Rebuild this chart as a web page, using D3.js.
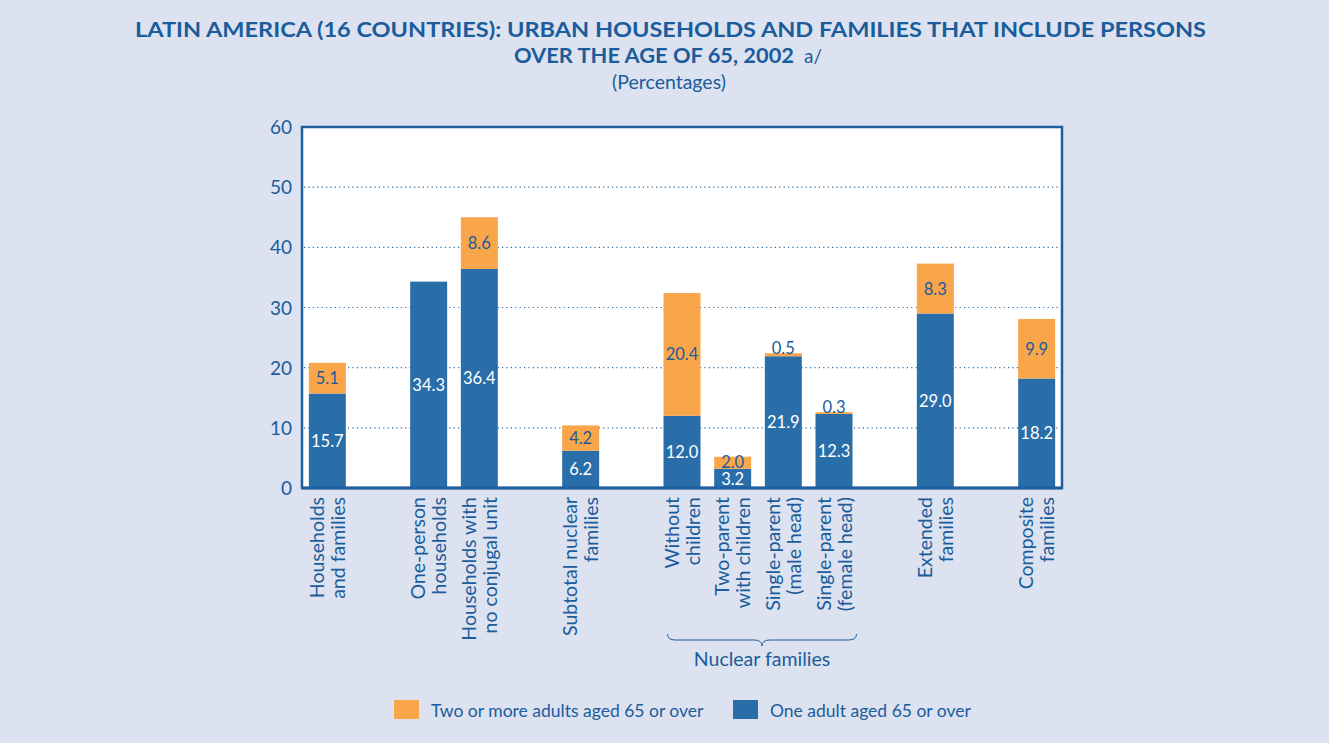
<!DOCTYPE html>
<html><head><meta charset="utf-8">
<script src="https://cdn.jsdelivr.net/npm/d3@7"></script>
<style>
html,body{margin:0;padding:0;background:#dce2ef;}
svg{display:block;font-family:Lato, "Open Sans", sans-serif;}
</style></head>
<body><svg id="c" width="1329" height="743"></svg>
<script>
// ---- data ----
const categories = [
  ["Households", "and families"],
  ["One-person", "households"],
  ["Households with", "no conjugal unit"],
  ["Subtotal nuclear", "families"],
  ["Without", "children"],
  ["Two-parent", "with children"],
  ["Single-parent", "(male head)"],
  ["Single-parent", "(female head)"],
  ["Extended", "families"],
  ["Composite", "families"]
];
const groupOf = [0, 1, 1, 2, 3, 3, 3, 3, 4, 5];
const oneAdult = [15.7, 34.3, 36.4, 6.2, 12.0, 3.2, 21.9, 12.3, 29.0, 18.2];
const twoOrMore = [5.1, 0, 8.6, 4.2, 20.4, 2.0, 0.5, 0.3, 8.3, 9.9];
const yTicks = [0, 10, 20, 30, 40, 50, 60];
const seriesNames = ["Two or more adults aged 65 or over", "One adult aged 65 or over"];
const bracketLabel = "Nuclear families";
const bracketGroup = 3;

const BLUE = "#2a6ea9", ORANGE = "#f9a54a", TXT = "#1a5c9c";
const svg = d3.select("#c");

// title
svg.append("text").attr("x", 135).attr("y", 37).attr("fill", TXT)
  .attr("font-weight", "bold").attr("font-size", 21.5)
  .attr("textLength", 1071).attr("lengthAdjust", "spacingAndGlyphs")
  .text("LATIN AMERICA (16 COUNTRIES): URBAN HOUSEHOLDS AND FAMILIES THAT INCLUDE PERSONS");
svg.append("text").attr("x", 514).attr("y", 63).attr("fill", TXT)
  .attr("font-weight", "bold").attr("font-size", 21.5)
  .attr("textLength", 280).attr("lengthAdjust", "spacingAndGlyphs")
  .text("OVER THE AGE OF 65, 2002");
svg.append("text").attr("x", 804).attr("y", 63).attr("fill", TXT)
  .attr("font-size", 19).text("a/");
svg.append("text").attr("x", 669).attr("y", 89).attr("text-anchor", "middle")
  .attr("fill", TXT).attr("font-size", 19.5).text("(Percentages)");

// plot
const L = 302, R = 1062, T = 127, B = 488;
// domain with spacer slots between groups
const domain = [];
categories.forEach((c, i) => {
  if (i > 0 && groupOf[i] !== groupOf[i - 1]) domain.push("gap" + i);
  domain.push("c" + i);
});
const x = d3.scaleBand().domain(domain).range([L, R]).paddingInner(0.27).paddingOuter(0.135);
const y = d3.scaleLinear().domain([0, 60]).range([B, T]);

svg.append("rect").attr("x", L).attr("y", T).attr("width", R - L).attr("height", B - T).attr("fill", "#fff");

// grid
svg.append("g").selectAll("line").data(yTicks.filter(v => v > 0 && v < 60)).join("line")
  .attr("x1", L + 2).attr("x2", R - 2).attr("y1", d => y(d)).attr("y2", d => y(d))
  .attr("stroke", "#2a6ea9").attr("stroke-width", 1.2).attr("stroke-dasharray", "1.2,3.2");

// bars
const bars = svg.append("g");
categories.forEach((c, i) => {
  const bx = x("c" + i), bw = x.bandwidth();
  bars.append("rect").attr("x", bx).attr("width", bw).attr("y", y(oneAdult[i]))
    .attr("height", y(0) - y(oneAdult[i])).attr("fill", BLUE);
  if (twoOrMore[i] > 0) {
    bars.append("rect").attr("x", bx).attr("width", bw).attr("y", y(oneAdult[i] + twoOrMore[i]))
      .attr("height", y(oneAdult[i]) - y(oneAdult[i] + twoOrMore[i])).attr("fill", ORANGE);
  }
});

// labels
const lab = svg.append("g").attr("font-size", 16.5).attr("text-anchor", "middle");
categories.forEach((c, i) => {
  const cx = x("c" + i) + x.bandwidth() / 2;
  const small = oneAdult[i] < 5;
  lab.append("text").attr("x", cx).attr("y", (y(0) + y(oneAdult[i])) / 2 + (small ? 7 : 6))
    .attr("fill", "#fff").text(oneAdult[i].toFixed(1));
  if (twoOrMore[i] > 0) {
    const top = y(oneAdult[i] + twoOrMore[i]);
    const mid = (y(oneAdult[i]) + top) / 2;
    const ly = twoOrMore[i] < 1.5 ? top + 1 : mid + (twoOrMore[i] < 3 ? 5 : 6);
    lab.append("text").attr("x", cx).attr("y", ly).attr("fill", TXT).text(twoOrMore[i].toFixed(1));
  }
});

// frame
svg.append("rect").attr("x", L).attr("y", T).attr("width", R - L).attr("height", B - T)
  .attr("fill", "none").attr("stroke", "#1f5fa0").attr("stroke-width", 2.5);
svg.append("line").attr("x1", L).attr("x2", R).attr("y1", B).attr("y2", B)
  .attr("stroke", "#1f5fa0").attr("stroke-width", 3);

// y ticks
svg.append("g").selectAll("text").data(yTicks).join("text")
  .attr("x", 292).attr("y", d => y(d) + 7).attr("text-anchor", "end")
  .attr("fill", TXT).attr("font-size", 19).text(d => d);

// x labels
const xl = svg.append("g").attr("font-size", 19.5).attr("fill", TXT);
categories.forEach((c, i) => {
  const cx = x("c" + i) + x.bandwidth() / 2;
  const g = xl.append("g").attr("transform", `translate(${cx},497) rotate(-90)`);
  c.forEach((line, k) => {
    g.append("text").attr("x", 0).attr("y", (k - (c.length - 1) / 2) * 21 + 7)
      .attr("text-anchor", "end").text(line);
  });
});

// bracket
const idx = groupOf.map((g, i) => g === bracketGroup ? i : -1).filter(i => i >= 0);
const bx0 = x("c" + idx[0]) + 4, bx1 = x("c" + idx[idx.length - 1]) + x.bandwidth() + 4;
const bm = (bx0 + bx1) / 2, by = 634;
svg.append("path")
  .attr("d", `M${bx0},${by} Q${bx0},${by + 6} ${bx0 + 8},${by + 6} L${bm - 8},${by + 6} Q${bm},${by + 6} ${bm},${by + 12} Q${bm},${by + 6} ${bm + 8},${by + 6} L${bx1 - 8},${by + 6} Q${bx1},${by + 6} ${bx1},${by}`)
  .attr("fill", "none").attr("stroke", TXT).attr("stroke-width", 1);
svg.append("text").attr("x", bm).attr("y", 666).attr("text-anchor", "middle")
  .attr("fill", TXT).attr("font-size", 19.5).text(bracketLabel);

// legend
const leg = svg.append("g");
const legX = [394, 733], legC = [ORANGE, BLUE];
seriesNames.forEach((n, i) => {
  leg.append("rect").attr("x", legX[i]).attr("y", 700).attr("width", 25).attr("height", 19).attr("fill", legC[i]);
  leg.append("text").attr("x", legX[i] + 37).attr("y", 717).attr("fill", TXT).attr("font-size", 17.5).text(n);
});
</script></body></html>
